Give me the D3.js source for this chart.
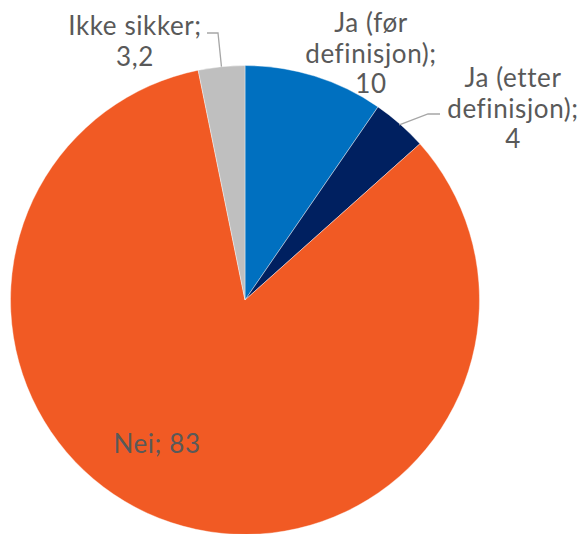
<!DOCTYPE html>
<html><head><meta charset="utf-8">
<script src="https://cdn.jsdelivr.net/npm/d3@7"></script>
<style>body{margin:0;background:#fff} text{font-variant-ligatures:none}</style>
</head><body>
<svg id="c" width="583" height="534"></svg>
<script>
const categories = ["Ja (før definisjon)", "Ja (etter definisjon)", "Nei", "Ikke sikker"];
const values = [9.6, 3.8, 83.4, 3.2];
const valueLabels = ["10", "4", "83", "3,2"];
const colors = ["#0070C0", "#002060", "#F15A24", "#BFBFBF"];

const svg = d3.select("#c");
const cx = 245, cy = 300, r = 234.5;
const g = svg.append("g").attr("transform", `translate(${cx},${cy})`);
const data = categories.map((c, i) => ({cat: c, value: values[i], label: valueLabels[i], color: colors[i]}));
const pie = d3.pie().value(d => d.value).sort(null);
const arc = d3.arc().innerRadius(0).outerRadius(r);
const arcs = pie(data);
g.selectAll("path").data(arcs).join("path")
  .attr("d", arc).attr("fill", d => d.data.color)
  .attr("stroke", "#fff").attr("stroke-width", 0.4);

const font = "Lato, 'Open Sans', sans-serif";
const fs = 26;
const labels = [
  {lines: ["Ja (før", "definisjon);", "10"], x: 371, y: 32},
  {lines: ["Ja (etter", "definisjon);", "4"], x: 513, y: 87},
  {lines: ["Nei; 83"], x: 157, y: 453},
  {lines: ["Ikke sikker;", "3,2"], x: 135, y: 35}
];
labels.forEach(l => {
  const t = svg.append("text").attr("font-family", font).attr("font-size", fs)
    .attr("letter-spacing", 0.6)
    .attr("fill", "#595959").attr("text-anchor", "middle");
  l.lines.forEach((s, i) => t.append("tspan").attr("x", l.x).attr("y", l.y + i * 30.5).text(s));
});

const line = d3.line();
const a1 = arcs[1], m1 = (a1.startAngle + a1.endAngle) / 2;
const p1 = [cx + Math.sin(m1) * r * 0.995, cy - Math.cos(m1) * r * 0.995];
svg.append("path").attr("d", line([p1, [428, 114], [440, 114]]))
  .attr("fill", "none").attr("stroke", "#A6A6A6").attr("stroke-width", 1.3);
const a3 = arcs[3], m3 = (a3.startAngle + a3.endAngle) / 2;
const p3 = [cx + Math.sin(m3) * r, cy - Math.cos(m3) * r];
svg.append("path").attr("d", line([p3, [218, 33], [207, 33]]))
  .attr("fill", "none").attr("stroke", "#A6A6A6").attr("stroke-width", 1.3);
</script>
</body></html>
